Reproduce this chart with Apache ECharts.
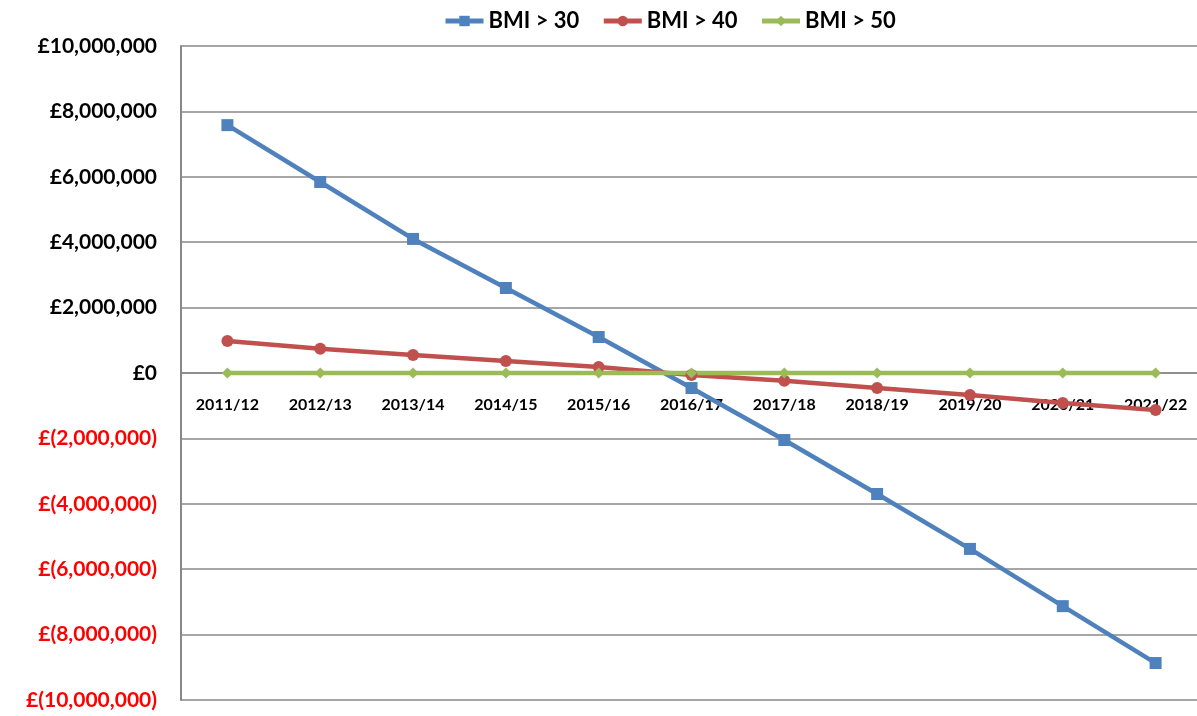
<!DOCTYPE html>
<html>
<head>
<meta charset="utf-8">
<script src="https://cdn.jsdelivr.net/npm/echarts@6/dist/echarts.min.js"></script>
<style>
html,body{margin:0;padding:0;background:#fff;}
#chart{width:1197px;height:716px;}
</style>
</head>
<body>
<div id="chart"></div>
<script>
const categories = ['2011/12','2012/13','2013/14','2014/15','2015/16','2016/17','2017/18','2018/19','2019/20','2020/21','2021/22'];
const bmi30 = [7580000, 5840000, 4100000, 2600000, 1100000, -460000, -2050000, -3700000, -5380000, -7130000, -8870000];
const bmi40 = [980000, 740000, 550000, 370000, 180000, -60000, -240000, -460000, -670000, -920000, -1130000];
const bmi50 = [0, 0, 0, 0, 0, 0, 0, 0, 0, 0, 0];
const seriesNames = ['BMI > 30', 'BMI > 40', 'BMI > 50'];

const FONT = 'Lato, "Open Sans", sans-serif';
function money(v){
  const s = Math.abs(v).toLocaleString('en-GB');
  return v < 0 ? '£(' + s + ')' : '£' + s;
}
const legendText = {fontFamily:FONT, fontWeight:700, fontSize:22, color:'#000'};
const chart = echarts.init(document.getElementById('chart'));
chart.setOption({
  animation:false,
  backgroundColor:'#fff',
  legend:{
    top:5, left:438,
    itemWidth:38, itemHeight:13, itemGap:22,
    lineStyle:{width:5},
    textStyle:legendText,
    data:seriesNames.map(n => ({name:n, textStyle:legendText}))
  },
  grid:{left:181, top:46, width:1021, height:654, containLabel:false, outerBoundsMode:'none'},
  xAxis:{
    type:'category', data:categories, boundaryGap:true,
    position:'bottom', offset:-327,
    axisLine:{onZero:false, lineStyle:{color:'#888', width:1.5}},
    axisTick:{show:false},
    axisLabel:{margin:24, fontFamily:FONT, fontWeight:'bold', fontSize:16, color:'#000', interval:0},
    splitLine:{show:false}
  },
  yAxis:{
    type:'value', min:-10000000, max:10000000, interval:2000000,
    axisLine:{show:true, lineStyle:{color:'#888', width:2}},
    axisTick:{show:false},
    splitLine:{lineStyle:{color:'#888', width:1.5}},
    axisLabel:{margin:24, fontFamily:FONT, fontWeight:'bold', fontSize:21,
      color:function(v){ return Number(v) < 0 ? '#ff0000' : '#000'; },
      formatter:money}
  },
  series:[
    {name:seriesNames[0], type:'line', data:bmi30, symbol:'rect', symbolSize:12,
     lineStyle:{width:4.5, color:'#4F81BD'}, itemStyle:{color:'#4F81BD'}},
    {name:seriesNames[1], type:'line', data:bmi40, symbol:'circle', symbolSize:12,
     lineStyle:{width:4.5, color:'#C0504D'}, itemStyle:{color:'#C0504D'}},
    {name:seriesNames[2], type:'line', data:bmi50, symbol:'diamond', symbolSize:11,
     lineStyle:{width:4.5, color:'#9BBB59'}, itemStyle:{color:'#9BBB59'}}
  ]
});
</script>
</body>
</html>
